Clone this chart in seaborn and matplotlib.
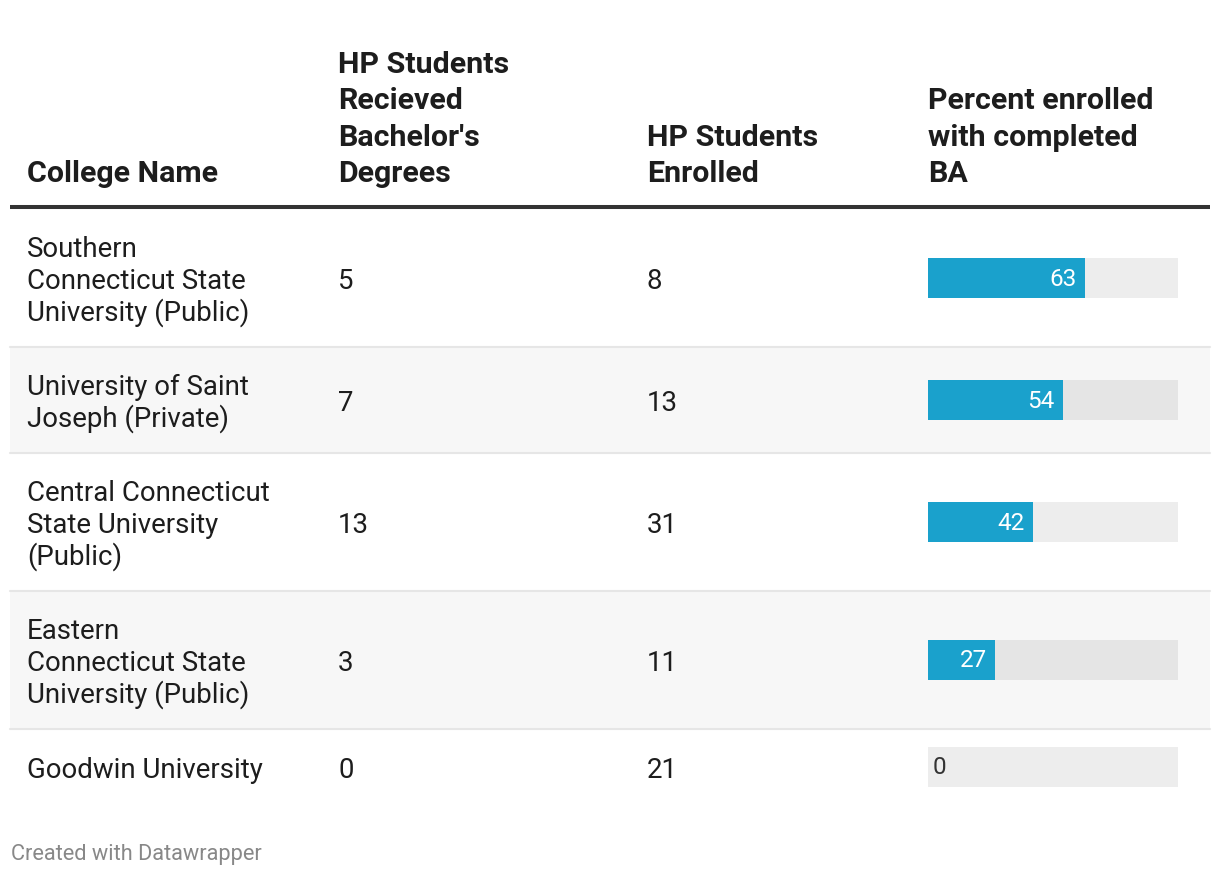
import matplotlib
matplotlib.use("Agg")
import matplotlib.pyplot as plt
import seaborn as sns

# Datos de la tabla
colleges = [
    "Southern\nConnecticut State\nUniversity (Public)",
    "University of Saint\nJoseph (Private)",
    "Central Connecticut\nState University\n(Public)",
    "Eastern\nConnecticut State\nUniversity (Public)",
    "Goodwin University",
]
degrees = [5, 7, 13, 3, 0]
enrolled = [8, 13, 31, 11, 21]
percent = [63, 54, 42, 27, 0]

headers = [
    "College Name",
    "HP Students\nRecieved\nBachelor's\nDegrees",
    "HP Students\nEnrolled",
    "Percent enrolled\nwith completed\nBA",
]

sns.set_style("white")
plt.rcParams["font.family"] = ["Roboto", "DejaVu Sans"]

W, H = 1220, 878
fig = plt.figure(figsize=(W / 100, H / 100), dpi=100)
ax = fig.add_axes([0, 0, 1, 1])
ax.set_xlim(0, W)
ax.set_ylim(H, 0)
ax.axis("off")

col_x = [27, 338, 647, 928]
text_color = "#1d1d1d"
body_size = 19.9
head_size = 21.9
line_h = 32
bar_color = "#1aa1cc"

# Cabecera: líneas alineadas abajo
head_base = 182
for x, h in zip(col_x, headers):
    lines = h.split("\n")
    for i, ln in enumerate(lines):
        y = head_base - (len(lines) - 1 - i) * 36.3
        ax.text(x, y, ln, fontsize=head_size, fontweight="bold",
                color=text_color, va="baseline", ha="left")

ax.plot([10, 1210], [208, 208], color="#333333", lw=2.9, solid_capstyle="butt")

# Filas
top = 210
for r, name in enumerate(colleges):
    n = len(name.split("\n"))
    height = 42 + max(line_h * n, 34)
    center = top + height / 2
    if r % 2 == 1:
        ax.fill_between([10, 1210], top, top + height, color="#f7f7f7", lw=0)
    if r > 0:
        ax.plot([10, 1210], [top - 0.5, top - 0.5], color="#e6e6e6", lw=1.5)

    for i, ln in enumerate(name.split("\n")):
        y = center + (i - (n - 1) / 2) * line_h + 10
        ax.text(col_x[0], y, ln, fontsize=body_size, color=text_color, va="baseline")
    ax.text(col_x[1], center + 10, str(degrees[r]), fontsize=body_size,
            color=text_color, va="baseline")
    ax.text(col_x[2], center + 10, str(enrolled[r]), fontsize=body_size,
            color=text_color, va="baseline")

    # barra de porcentaje
    bax = fig.add_axes([927.5 / W, (H - (center + 20)) / H, 250 / W, 40 / H])
    bax.patch.set_visible(False)
    sns.barplot(x=[100], y=[name], orient="h", color="black", alpha=0.07,
                width=1, saturation=1, linewidth=0, ax=bax)
    sns.barplot(x=[percent[r]], y=[name], orient="h", color=bar_color,
                width=1, saturation=1, linewidth=0, ax=bax)
    bax.set_xlim(0, 100)
    bax.set_ylim(0.5, -0.5)
    bax.axis("off")
    v = percent[r]
    if v > 0:
        bax.text(v - 3.2, 0, str(v), ha="right", va="center", color="white",
                 fontsize=17.5)
    else:
        bax.text(2, 0, str(v), ha="left", va="center", color="#333333",
                 fontsize=17.5)

    top += height

ax.text(11, 860, "Created with Datawrapper", fontsize=15.7, color="#888888",
        va="baseline")

fig.savefig("out.png", dpi=100)
